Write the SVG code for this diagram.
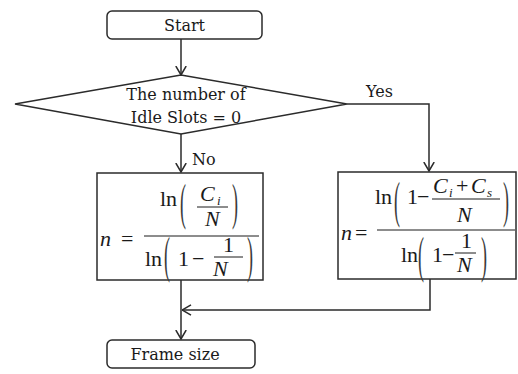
<svg xmlns="http://www.w3.org/2000/svg" width="518" height="374" viewBox="0 0 518 374">
  <style>
    .shape { fill: #ffffff; stroke: #2b2b2b; stroke-width: 1.5; }
    .wire { fill: none; stroke: #2b2b2b; stroke-width: 1.5; }
    .label { font-family: "DejaVu Serif", "Liberation Serif", serif; font-size: 16px; fill: #1a1a1a; }
    .m { font-family: "Liberation Serif", "Times New Roman", serif; font-size: 22px; fill: #1a1a1a; }
    .mi { font-family: "Liberation Serif", "Times New Roman", serif; font-size: 22px; font-style: italic; fill: #1a1a1a; }
    .sub { font-family: "Liberation Serif", "Times New Roman", serif; font-size: 13px; font-style: italic; fill: #1a1a1a; }
    .bar { stroke: #1a1a1a; stroke-width: 1; }
    .paren { font-family: "Liberation Serif", "Times New Roman", serif; font-size: 18px; fill: #3a3a3a; }
  </style>
  <defs>
    <marker id="open" viewBox="0 0 10 12" refX="9.5" refY="6" markerWidth="10" markerHeight="12" markerUnits="userSpaceOnUse" orient="auto">
      <path d="M0.5,0.8 L9.5,6 L0.5,11.2" fill="none" stroke="#2b2b2b" stroke-width="1.5"/>
    </marker>
  </defs>

  <rect width="518" height="374" fill="#ffffff"/>

  <!-- connectors -->
  <g id="connectors">
    <path class="wire" d="M181,39 V75" marker-end="url(#open)"/>
    <path class="wire" d="M181,134 V172" marker-end="url(#open)"/>
    <path class="wire" d="M347,104 H429 V171" marker-end="url(#open)"/>
    <path class="wire" d="M181,280 V339" marker-end="url(#open)"/>
    <path class="wire" d="M430,279 V310 H182" marker-end="url(#open)"/>
    <text class="label" x="366" y="97">Yes</text>
    <text class="label" x="192" y="165">No</text>
  </g>

  <g id="start">
    <rect class="shape" x="107" y="11" width="155" height="28" rx="5"/>
    <text class="label" x="184.5" y="31" text-anchor="middle">Start</text>
  </g>

  <g id="decision">
    <polygon class="shape" points="15,104 181,75 347,104 181,134"/>
    <text class="label" x="186" y="100" text-anchor="middle">The number of</text>
    <text class="label" x="186" y="123" text-anchor="middle">Idle Slots = 0</text>
  </g>

  <!-- n = ln(Ci/N) / ln(1 - 1/N) -->
  <g id="formula-no">
    <rect class="shape" x="97" y="173" width="166" height="107"/>
    <text class="mi" x="100" y="246">n</text>
    <text class="m" x="121" y="246">=</text>
    <line class="bar" x1="144" y1="236" x2="259" y2="236"/>
    <text class="m" x="160" y="206">ln</text>
    <text class="paren" transform="translate(180,219) scale(1,2.8)">(</text>
    <text class="mi" x="200" y="201">C</text>
    <text class="sub" x="217" y="205">i</text>
    <line class="bar" x1="197" y1="207" x2="228" y2="207"/>
    <text class="mi" x="205" y="226">N</text>
    <text class="paren" transform="translate(232,219) scale(1,2.8)">)</text>
    <text class="m" x="145" y="266">ln</text>
    <text class="paren" transform="translate(164,272) scale(1,2.8)">(</text>
    <text class="m" x="178" y="266">1</text>
    <text class="m" x="192" y="266">−</text>
    <text class="m" x="223" y="252">1</text>
    <line class="bar" x1="214" y1="257" x2="243" y2="257"/>
    <text class="mi" x="213" y="276">N</text>
    <text class="paren" transform="translate(247,272) scale(1,2.8)">)</text>
  </g>

  <!-- n = ln(1 - (Ci+Cs)/N) / ln(1 - 1/N) -->
  <g id="formula-yes">
    <rect class="shape" x="338" y="172" width="178" height="107"/>
    <text class="mi" x="341" y="240">n</text>
    <text class="m" x="355" y="240">=</text>
    <line class="bar" x1="377" y1="230" x2="515" y2="230"/>
    <text class="m" x="375" y="204">ln</text>
    <text class="paren" transform="translate(394,217) scale(1,2.8)">(</text>
    <text class="m" x="407" y="204">1</text>
    <text class="m" x="417" y="204">−</text>
    <text class="mi" x="433" y="193">C</text>
    <text class="sub" x="449" y="197">i</text>
    <text class="m" x="456" y="193">+</text>
    <text class="mi" x="471" y="193">C</text>
    <text class="sub" x="487" y="197">s</text>
    <line class="bar" x1="432" y1="199" x2="500" y2="199"/>
    <text class="mi" x="457" y="222">N</text>
    <text class="paren" transform="translate(503,217) scale(1,2.8)">)</text>
    <text class="m" x="401" y="262">ln</text>
    <text class="paren" transform="translate(418,272) scale(1,2.8)">(</text>
    <text class="m" x="432" y="262">1</text>
    <text class="m" x="442" y="262">−</text>
    <text class="m" x="461" y="248">1</text>
    <line class="bar" x1="455" y1="253" x2="476" y2="253"/>
    <text class="mi" x="457" y="272">N</text>
    <text class="paren" transform="translate(481,272) scale(1,2.8)">)</text>
  </g>

  <g id="frame-size">
    <rect class="shape" x="107" y="340" width="148" height="28" rx="5"/>
    <text class="label" x="175" y="360" text-anchor="middle">Frame size</text>
  </g>
</svg>
